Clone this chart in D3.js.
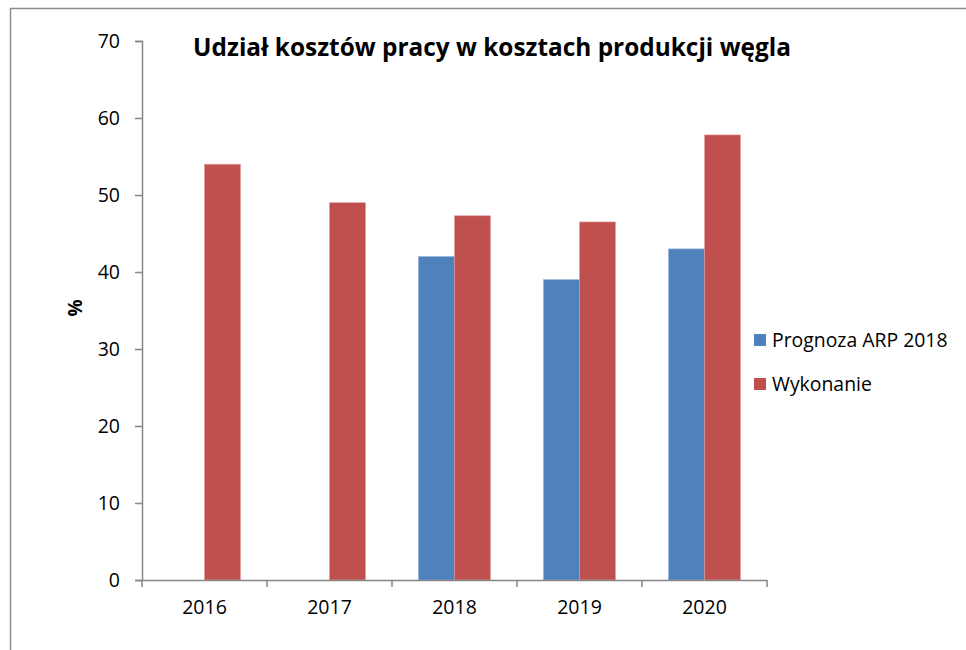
<!DOCTYPE html>
<html><head><meta charset="utf-8">
<script src="https://cdn.jsdelivr.net/npm/d3@7"></script>
<style>body{margin:0;background:#fff}svg{display:block}text{font-family:"Open Sans",Lato,sans-serif}</style>
</head><body><svg id="c" width="966" height="650"></svg>
<script>
const categories = ["2016","2017","2018","2019","2020"];
const prognoza = [null, null, 42, 39, 43];
const wykonanie = [54, 49, 47.3, 46.5, 57.8];
const seriesNames = ["Prognoza ARP 2018","Wykonanie"];
const colors = ["#4F81BD","#C0504D"];
const yTicks = [0,10,20,30,40,50,60,70];

const svg = d3.select("#c");
svg.append("rect").attr("x",10.5).attr("y",8.5).attr("width",1000).attr("height",700)
  .attr("fill","none").attr("stroke","#8c8c8c").attr("stroke-width",1.5);

const x = d3.scaleBand().domain(categories).range([142,767]);
const y = d3.scaleLinear().domain([0,70]).range([580,41]);
const barW = x.bandwidth()*0.288;

const series = [prognoza, wykonanie];
series.forEach((vals,si)=>{
  svg.append("g").selectAll("rect").data(categories.map((c,i)=>({c,v:vals[i]})).filter(d=>d.v!=null))
    .join("rect")
    .attr("x",d=>x(d.c)+x.bandwidth()/2 + (si===0?-barW:0))
    .attr("y",d=>y(d.v)).attr("width",barW).attr("height",d=>y(0)-y(d.v))
    .attr("fill",colors[si]).attr("stroke",si===0?"#8fb0dc":"#e39a98").attr("stroke-width",0.6);
});

const axisColor="#868686";
const font = "'Open Sans',Lato,sans-serif";
const yAxis = svg.append("g").attr("transform","translate(142,0)")
  .call(d3.axisLeft(y).tickValues(yTicks).tickSize(7).tickPadding(15).tickFormat(d3.format("d")));
yAxis.select(".domain").attr("stroke",axisColor).attr("stroke-width",1.5);
yAxis.selectAll(".tick line").attr("stroke",axisColor).attr("stroke-width",1.5);
yAxis.selectAll("text").attr("font-size",19.5).attr("fill","#000").style("font-family",font);

const xAxis = svg.append("g").attr("transform","translate(0,580)")
  .call(d3.axisBottom(x).tickSize(0).tickPadding(20));
xAxis.select(".domain").attr("stroke",axisColor).attr("stroke-width",1.5);
xAxis.selectAll("text").attr("font-size",19.5).attr("fill","#000").style("font-family",font);
const bounds = categories.map(c=>x(c)).concat([x.range()[1]]);
svg.append("g").selectAll("line").data(bounds).join("line")
  .attr("x1",d=>d).attr("x2",d=>d).attr("y1",580).attr("y2",587)
  .attr("stroke",axisColor).attr("stroke-width",1.5);

svg.append("text").attr("x",492).attr("y",56).attr("text-anchor","middle")
  .attr("font-size",24.4).attr("font-weight","bold").text("Udział kosztów pracy w kosztach produkcji węgla");

svg.append("text").attr("transform","translate(82,308) rotate(-90)").attr("text-anchor","middle")
  .attr("font-size",19).attr("font-weight","bold").text("%");

const leg = svg.append("g");
seriesNames.forEach((n,i)=>{
  leg.append("rect").attr("x",754).attr("y",334+i*44).attr("width",12).attr("height",12).attr("fill",colors[i]);
  leg.append("text").attr("x",772).attr("y",347+i*44).attr("font-size",19.4).text(n);
});
</script></body></html>
